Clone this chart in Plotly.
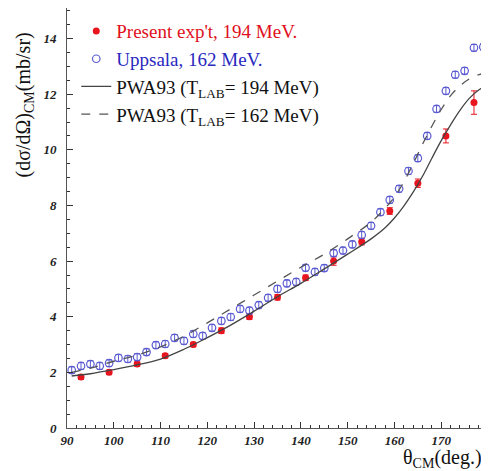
import plotly.graph_objects as go

# Present experiment, 194 MeV
red_theta = [93, 99, 105, 111, 117, 123, 129, 135, 141, 147, 153, 159, 165, 171, 177]
red_xs = [1.83, 2.0, 2.3, 2.6, 3.0, 3.5, 4.0, 4.7, 5.4, 6.0, 6.7, 7.8, 8.8, 10.5, 11.7]
red_err = [0.08, 0.08, 0.08, 0.08, 0.08, 0.1, 0.1, 0.1, 0.1, 0.15, 0.12, 0.12, 0.15, 0.25, 0.42]

# Uppsala, 162 MeV
blue_theta = [91, 93, 95, 97, 99, 101, 103, 105, 107, 109, 111, 113, 115, 117, 119, 121, 123, 125,
              127, 129, 131, 133, 135, 137, 139, 141, 143, 145, 147, 149, 151, 153, 155, 157, 159,
              161, 163, 165, 167, 169, 171, 173, 175, 177, 179]
blue_xs = [2.08, 2.23, 2.3, 2.23, 2.33, 2.52, 2.48, 2.55, 2.73, 2.98, 3.02, 3.24, 3.13, 3.38, 3.31,
           3.6, 3.85, 3.99, 4.28, 4.22, 4.42, 4.68, 5.0, 5.2, 5.25, 5.76, 5.61, 5.75, 6.29, 6.38,
           6.6, 6.94, 7.27, 7.76, 8.2, 8.6, 9.24, 9.7, 10.5, 11.47, 12.12, 12.7, 12.84, 13.67, 13.7]
blue_err = [0.12] * len(blue_theta)

# PWA93 curves
pwa_theta = [91, 95, 100, 105, 110, 115, 120, 125, 130, 135, 140, 145, 150, 155, 158, 160, 162,
             164, 166, 168, 170, 172, 174, 176, 178, 180]
pwa194 = [1.87, 1.95, 2.1, 2.27, 2.48, 2.83, 3.25, 3.7, 4.2, 4.72, 5.2, 5.72, 6.25, 6.8, 7.2,
          7.55, 7.98, 8.48, 9.05, 9.7, 10.33, 10.9, 11.42, 11.85, 12.15, 12.35]
pwa162 = [2.0, 2.15, 2.4, 2.62, 2.92, 3.3, 3.78, 4.28, 4.78, 5.28, 5.78, 6.25, 6.8, 7.4, 7.9,
          8.3, 8.85, 9.5, 10.2, 10.85, 11.45, 11.95, 12.3, 12.55, 12.7, 12.8]

x_ticks = [90, 100, 110, 120, 130, 140, 150, 160, 170]
y_ticks = [0, 2, 4, 6, 8, 10, 12, 14]

SERIF = "Liberation Serif, Times New Roman, serif"
RED = "#e8141e"
BLUE = "#5a5ad2"

fig = go.Figure()
fig.add_trace(go.Scatter(
    x=red_theta, y=red_xs, mode="markers",
    name='<span style="color:#e01020">Present exp\'t, 194 MeV.</span>',
    marker=dict(color=RED, size=7, symbol="circle"),
    error_y=dict(type="data", array=red_err, color=RED, thickness=1, width=3),
))
fig.add_trace(go.Scatter(
    x=blue_theta, y=blue_xs, mode="markers",
    name='<span style="color:#2828c0">Uppsala, 162 MeV.</span>',
    marker=dict(color="rgba(0,0,0,0)", size=7.5, symbol="circle",
                line=dict(color=BLUE, width=1.2)),
    error_y=dict(type="data", array=blue_err, color=BLUE, thickness=1, width=3),
))
fig.add_trace(go.Scatter(
    x=pwa_theta, y=pwa194, mode="lines", line_shape="spline",
    name="PWA93 (T<sub>LAB</sub>= 194 MeV)",
    line=dict(color="#444444", width=1.3),
))
fig.add_trace(go.Scatter(
    x=pwa_theta, y=pwa162, mode="lines", line_shape="spline",
    name="PWA93 (T<sub>LAB</sub>= 162 MeV)",
    line=dict(color="#555555", width=1.3, dash="dash"),
))

axis_common = dict(
    showgrid=False, zeroline=False, showline=True, mirror=True,
    linecolor="#555555", linewidth=1, ticks="inside", ticklen=6, tickcolor="#333333",
    tickfont=dict(family=SERIF, size=13, color="#222222", weight="bold", style="italic"),
)

fig.update_layout(
    width=481, height=463,
    margin=dict(l=59, r=1, t=0, b=43),
    paper_bgcolor="white", plot_bgcolor="white",
    showlegend=True,
    legend=dict(x=0.022, y=0.99, xanchor="left", yanchor="top",
                bgcolor="rgba(0,0,0,0)", font=dict(family=SERIF, size=19, color="#111111"),
                itemwidth=30, tracegroupgap=0),
    xaxis=dict(range=[90, 180], tickvals=x_ticks, ticktext=[str(v) for v in x_ticks],
               minor=dict(dtick=2, ticks="inside", ticklen=3, tickcolor="#333333"),
               **axis_common),
    yaxis=dict(range=[0, 15.1], tickvals=y_ticks, ticktext=[str(v) for v in y_ticks],
               ticklabelstandoff=7,
               minor=dict(dtick=0.5, ticks="inside", ticklen=3, tickcolor="#333333"),
               **axis_common),
    annotations=[
        dict(text="θ<sub>CM</sub>(deg.)", xref="paper", yref="paper", x=0.99, y=-0.038,
             xanchor="right", yanchor="top", showarrow=False,
             font=dict(family=SERIF, size=20, color="#111111")),
        dict(text="(dσ/dΩ)<sub>CM</sub>(mb/sr)", xref="paper", yref="paper", x=-0.1, y=0.77,
             xanchor="center", yanchor="middle", textangle=-90, showarrow=False,
             font=dict(family=SERIF, size=20, color="#111111")),
    ],
)

fig.write_html("out.html")
